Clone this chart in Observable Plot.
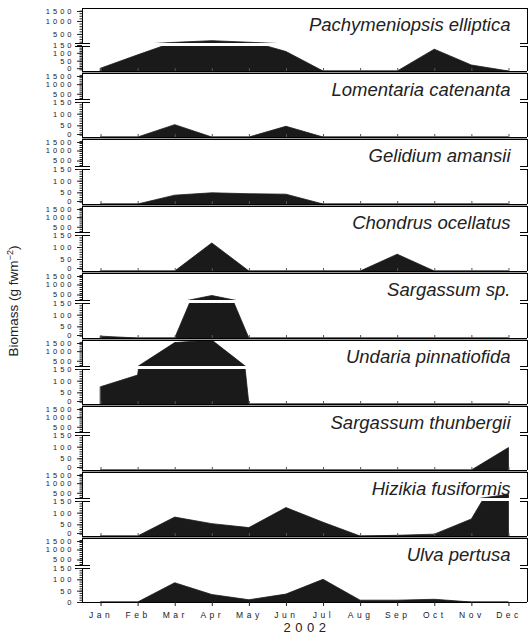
<!DOCTYPE html>
<html><head><meta charset="utf-8">
<script src="https://cdn.jsdelivr.net/npm/d3@7"></script>
<script src="https://cdn.jsdelivr.net/npm/@observablehq/plot@0.6"></script>
<style>
body{margin:0;background:#fff;font-family:"Liberation Sans",Arial,sans-serif;}
#chart{position:relative;width:528px;height:641px;overflow:hidden;}
#chart svg{position:absolute;left:0;overflow:visible;}
g[aria-label="y-axis tick label"] text{letter-spacing:3px;}
g[aria-label="x-axis tick label"] text{letter-spacing:3.5px;}
.yr{letter-spacing:4.5px;}
#ylab{position:absolute;left:13px;top:301px;transform:translate(-50%,-50%) rotate(-90deg);white-space:nowrap;font-size:13.5px;color:#222;}
#ylab sup{font-size:9px;}
</style></head><body><div id="chart"><div id="ylab">Biomass (g fwm<sup>−2</sup>)</div></div>
<script>
// ---- data ----
const months = ["Jan","Feb","Mar","Apr","May","Jun","Jul","Aug","Sep","Oct","Nov","Dec"];
const yearLabel = "2002";
const speciesNames = ["Pachymeniopsis elliptica","Lomentaria catenanta","Gelidium amansii","Chondrus ocellatus","Sargassum sp.","Undaria pinnatiofida","Sargassum thunbergii","Hizikia fusiformis","Ulva pertusa"];
const pachymeniopsis = [17, 97, 175, 240, 180, 117, 0, 0, 0, 131, 36, null];
const lomentaria     = [0, 0, 53, 0, 0, 46, 0, null, null, null, null, null];
const gelidium       = [0, 0, 38, 48, 44, 42, 0, null, null, null, null, null];
const chondrus       = [0, 0, 0, 117, 0, 0, 0, 0, 70, 0, null, null];
const sargassumSp    = [8, 0, 0, 375, 0, null, null, null, null, null, null, null];
const undaria        = [74, 124, 1365, 1500, 0, null, null, null, null, null, null, null];
const thunbergii     = [null, null, null, null, null, null, null, null, null, null, 0, 96];
const hizikia        = [0, 0, 81, 53, 36, 122, 59, 0, 3, 8, 73, 340];
const ulva           = [0, 0, 85, 33, 10, 35, 100, 8, 8, 12, 0, null];
const seriesList = [pachymeniopsis, lomentaria, gelidium, chondrus, sargassumSp, undaria, thunbergii, hizikia, ulva];
const lowerTicks = [0, 50, 100, 150];
const upperMajor = [500, 1000];
const upperTop = [1500];

// ---- layout ----
const W = 528, ML = 82, MR = 1;
const panelTops = [7, 72, 138, 205, 272, 339, 405, 471, 537, 603];
const breakOffsets = [38, 29, 30, 29, 30, 29, 29, 29, 30];
const ink = "#1a1a1a";
const pxPerMonth = (W - ML - MR) / 12;
const breakLeft = [-0.5 - 7 / pxPerMonth, -0.5 + 8 / pxPerMonth];
const breakRight = [11.5 - 7 / pxPerMonth, 11.5 + 1 / pxPerMonth];
const font = "Liberation Sans, Arial, sans-serif";
const tickFont = 7.5;
const fmt = d3.format("d");
// label nudges (px) so the squeezed tick labels do not collide
const lowerNudgeFirst = [-2.8, -2, -1.5, -1];
const lowerNudge = [-3, 0, 0, 0];
const lowerNudgeLast = [0, 0, 0, 0];
const chart = document.getElementById("chart");

function place(svg, top) { svg.style.top = top + "px"; chart.appendChild(svg); }

seriesList.forEach((series, p) => {
  const rows = series.map((v, i) => ({i, v}));
  const top = panelTops[p], bottom = panelTops[p + 1], brk = top + breakOffsets[p];
  const uh = brk - top, lh = bottom - brk;
  const last = p === seriesList.length - 1;
  const first = p === 0;
  const common = {
    width: W, marginLeft: ML, marginRight: MR,
    style: {fontFamily: font, fontSize: "8px", overflow: "visible", background: "transparent", color: "#222"}
  };
  // upper segment 150..1500
  const upper = Plot.plot({
    ...common, height: uh, marginTop: 1, marginBottom: 2,
    x: {domain: [-0.5, 11.5], axis: null},
    y: {domain: [150, 1500], axis: null},
    marks: [
      Plot.areaY(rows, {x: "i", y: "v", fill: ink, stroke: ink, strokeWidth: 0.8, clip: true}),
      Plot.ruleX([-0.5, 11.5], {stroke: "#000"}),
      Plot.ruleY([1500], {stroke: "#000"}),
      Plot.ruleY([150], {x1: breakLeft[0], x2: breakLeft[1], stroke: "#000"}),
      Plot.ruleY([150], {x1: breakRight[0], x2: breakRight[1], stroke: "#000"}),
      Plot.axisY({ticks: d3.range(200, 1500, 100), tickSize: 2.5, tickFormat: () => "", label: null}),
      Plot.axisY({ticks: upperMajor, tickSize: 5, tickPadding: 3, tickFormat: fmt, fontSize: tickFont, label: null, dy: first ? 0 : 1.5}),
      Plot.axisY({ticks: upperTop, tickSize: 5, tickPadding: 3, tickFormat: fmt, fontSize: tickFont, label: null, dy: 3}),
      Plot.text([speciesNames[p]], {frameAnchor: "top-right", dx: -17, dy: 9.5, fontSize: 18.5, fontStyle: "italic", fill: "#222"})
    ]
  });
  place(upper, top);
  // lower segment 0..150
  const nudge = first ? lowerNudgeFirst : last ? lowerNudgeLast : lowerNudge;
  const lowerMarks = [
    Plot.areaY(rows, {x: "i", y: "v", fill: ink, stroke: ink, strokeWidth: 0.8, clip: true}),
    Plot.ruleX([-0.5, 11.5], {stroke: "#000"}),
    Plot.ruleY([150], {x1: breakLeft[0], x2: breakLeft[1], stroke: "#000"}),
    Plot.ruleY([150], {x1: breakRight[0], x2: breakRight[1], stroke: "#000"}),
    Plot.axisY({ticks: d3.range(10, 150, 10), tickSize: 2.5, tickFormat: () => "", label: null}),
    ...lowerTicks.map((t, k) => Plot.axisY({ticks: [t], tickSize: 5, tickPadding: 3, tickFormat: fmt, fontSize: tickFont, label: null, dy: nudge[k]})),
    Plot.ruleY([0], {stroke: "#000"})
  ];
  if (last) {
    lowerMarks.push(
      Plot.axisX({ticks: d3.range(12), tickFormat: i => months[i], tickSize: 4, tickPadding: 5, fontSize: 8.5, label: null}),
      Plot.text([yearLabel], {frameAnchor: "bottom", dy: 29.5, dx: 2, fontSize: 13, className: "yr", fill: "#222"})
    );
  } else {
    lowerMarks.push(
      Plot.ruleY([0], {stroke: "#9a9a9a", dy: 1}),
      Plot.ruleX(d3.range(12), {y1: 0, y2: 150 * 3 / (lh - 2), stroke: "#555"})
    );
  }
  const lower = Plot.plot({
    ...common, height: lh, marginTop: 1, marginBottom: 1,
    x: {domain: [-0.5, 11.5], axis: null},
    y: {domain: [0, 150], axis: null},
    marks: lowerMarks
  });
  place(lower, brk);
});
</script></body></html>
